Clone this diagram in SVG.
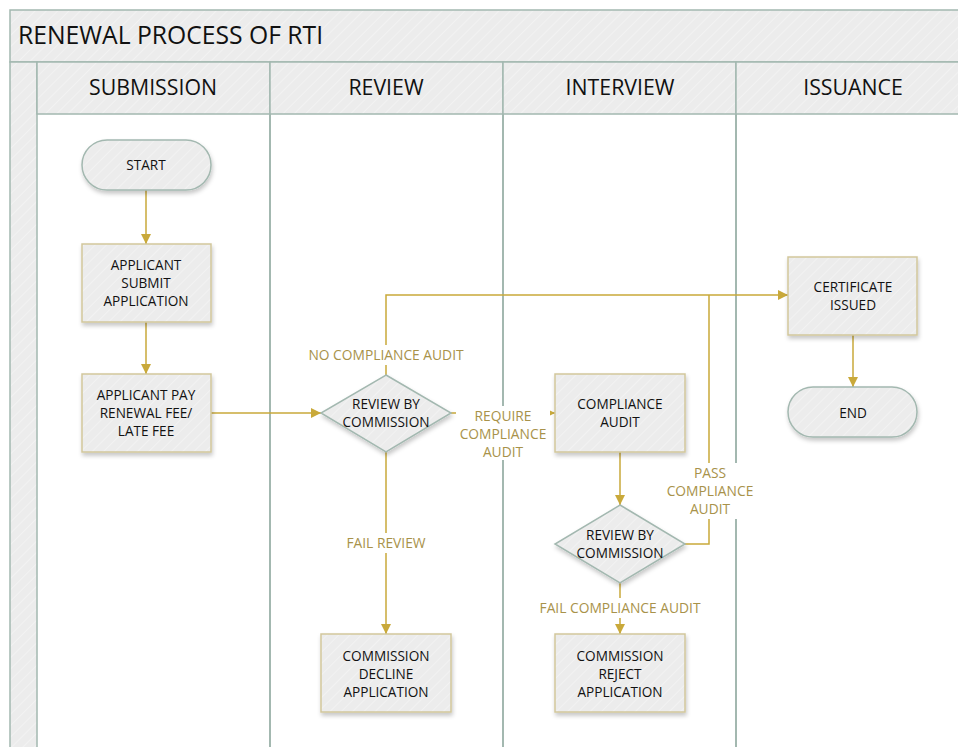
<svg xmlns="http://www.w3.org/2000/svg" width="958" height="747" viewBox="0 0 958 747">
<defs>
<pattern id="hatch" width="8" height="8" patternUnits="userSpaceOnUse" patternTransform="rotate(45)">
<rect width="8" height="8" fill="#ececec"/>
<line x1="0" y1="0" x2="0" y2="8" stroke="#f6f6f6" stroke-width="1.2"/>
</pattern>
<filter id="sh" x="-20%" y="-20%" width="140%" height="150%">
<feDropShadow dx="1" dy="3" stdDeviation="2" flood-color="#000" flood-opacity="0.22"/>
</filter>
<marker id="arr" viewBox="0 0 10 10" refX="10" refY="5" markerWidth="10" markerHeight="10" markerUnits="userSpaceOnUse" orient="auto">
<path d="M0,0 L10,5 L0,10 z" fill="#c9a93a"/>
</marker>
<style>
.frame{fill:url(#hatch);stroke:#a3b8b0;stroke-width:1.5}
.lane{stroke:#a3b8b0;stroke-width:2;fill:none}
.hdr{font-family:"Open Sans","Noto Sans",sans-serif;font-size:21.3px;fill:#111;text-anchor:middle;dominant-baseline:central}
.title{font-family:"Open Sans","Noto Sans",sans-serif;font-size:24.7px;fill:#111;dominant-baseline:central}
.box{fill:url(#hatch);stroke:#d2c79c;stroke-width:1.5;filter:url(#sh)}
.term{fill:url(#hatch);stroke:#a3b8b0;stroke-width:1.5;filter:url(#sh)}
.dec{fill:url(#hatch);stroke:#a3b8b0;stroke-width:1.5;filter:url(#sh)}
.t{font-family:"Open Sans","Noto Sans",sans-serif;font-size:13.6px;fill:#111;text-anchor:middle;dominant-baseline:central}
.c{stroke:#c9a93a;stroke-width:1.5;fill:none}
.lbl{font-family:"Open Sans","Noto Sans",sans-serif;font-size:13.8px;fill:#a8924a;text-anchor:middle;dominant-baseline:central}
.lbg{fill:#fff}
</style>
</defs>
<rect width="958" height="747" fill="#fff"/>
<g id="pool">
<rect class="frame" x="10" y="10" width="960" height="52"/>
<text class="title" x="18" y="34">RENEWAL PROCESS OF RTI</text>
<rect class="frame" x="10" y="62" width="27" height="700"/>
<rect class="frame" x="37" y="62" width="233" height="52"/>
<rect class="frame" x="270" y="62" width="233" height="52"/>
<rect class="frame" x="503" y="62" width="233" height="52"/>
<rect class="frame" x="736" y="62" width="233" height="52"/>
<text class="hdr" x="153" y="86">SUBMISSION</text>
<text class="hdr" x="386" y="86">REVIEW</text>
<text class="hdr" x="620" y="86">INTERVIEW</text>
<text class="hdr" x="853" y="86">ISSUANCE</text>
<line class="lane" x1="270" y1="114" x2="270" y2="747"/>
<line class="lane" x1="503" y1="114" x2="503" y2="747"/>
<line class="lane" x1="736" y1="114" x2="736" y2="747"/>
</g>
<g id="connectors">
<path class="c" d="M146,190 V244" marker-end="url(#arr)"/>
<path class="c" d="M146,322 V374" marker-end="url(#arr)"/>
<path class="c" d="M211,413 H321" marker-end="url(#arr)"/>
<path class="c" d="M386,375 V295 H788" marker-end="url(#arr)"/>
<path class="c" d="M451,413 H555" marker-end="url(#arr)"/>
<path class="c" d="M386,452 V634" marker-end="url(#arr)"/>
<path class="c" d="M620,452 V505" marker-end="url(#arr)"/>
<path class="c" d="M685,544 H709 V295"/>
<path class="c" d="M620,583 V634" marker-end="url(#arr)"/>
<path class="c" d="M853,335 V387" marker-end="url(#arr)"/>
<rect class="lbg" x="303" y="345" width="166" height="20"/>
<text class="lbl" x="386" y="354">NO COMPLIANCE AUDIT</text>
<rect class="lbg" x="456" y="406" width="94" height="54"/>
<text class="lbl" x="503" y="415">REQUIRE</text>
<text class="lbl" x="503" y="433">COMPLIANCE</text>
<text class="lbl" x="503" y="451">AUDIT</text>
<rect class="lbg" x="342" y="533" width="88" height="20"/>
<text class="lbl" x="386" y="542">FAIL REVIEW</text>
<rect class="lbg" x="662" y="463" width="96" height="56"/>
<text class="lbl" x="710" y="472">PASS</text>
<text class="lbl" x="710" y="490">COMPLIANCE</text>
<text class="lbl" x="710" y="508">AUDIT</text>
<rect class="lbg" x="534" y="598" width="172" height="20"/>
<text class="lbl" x="620" y="607">FAIL COMPLIANCE AUDIT</text>
</g>
<g id="start">
<rect class="term" x="82" y="140" width="129" height="50" rx="25"/>
<text class="t" x="146" y="164">START</text>
</g>
<g id="submit">
<rect class="box" x="82" y="244" width="129" height="78"/>
<text class="t" x="146" y="264">APPLICANT</text>
<text class="t" x="146" y="282">SUBMIT</text>
<text class="t" x="146" y="300">APPLICATION</text>
</g>
<g id="pay">
<rect class="box" x="82" y="374" width="129" height="78"/>
<text class="t" x="146" y="394">APPLICANT PAY</text>
<text class="t" x="146" y="412">RENEWAL FEE/</text>
<text class="t" x="146" y="430">LATE FEE</text>
</g>
<g id="review1">
<path class="dec" d="M386,375 L451,413 L386,452 L321,413 z"/>
<text class="t" x="386" y="403">REVIEW BY</text>
<text class="t" x="386" y="421">COMMISSION</text>
</g>
<g id="decline">
<rect class="box" x="321" y="634" width="130" height="78"/>
<text class="t" x="386" y="655">COMMISSION</text>
<text class="t" x="386" y="673">DECLINE</text>
<text class="t" x="386" y="691">APPLICATION</text>
</g>
<g id="audit">
<rect class="box" x="555" y="374" width="130" height="78"/>
<text class="t" x="620" y="403">COMPLIANCE</text>
<text class="t" x="620" y="421">AUDIT</text>
</g>
<g id="review2">
<path class="dec" d="M620,505 L685,544 L620,583 L555,544 z"/>
<text class="t" x="620" y="534">REVIEW BY</text>
<text class="t" x="620" y="552">COMMISSION</text>
</g>
<g id="reject">
<rect class="box" x="555" y="634" width="130" height="78"/>
<text class="t" x="620" y="655">COMMISSION</text>
<text class="t" x="620" y="673">REJECT</text>
<text class="t" x="620" y="691">APPLICATION</text>
</g>
<g id="certificate">
<rect class="box" x="788" y="257" width="129" height="78"/>
<text class="t" x="853" y="286">CERTIFICATE</text>
<text class="t" x="853" y="304">ISSUED</text>
</g>
<g id="end">
<rect class="term" x="788" y="387" width="129" height="50" rx="25"/>
<text class="t" x="853" y="412">END</text>
</g>
</svg>
